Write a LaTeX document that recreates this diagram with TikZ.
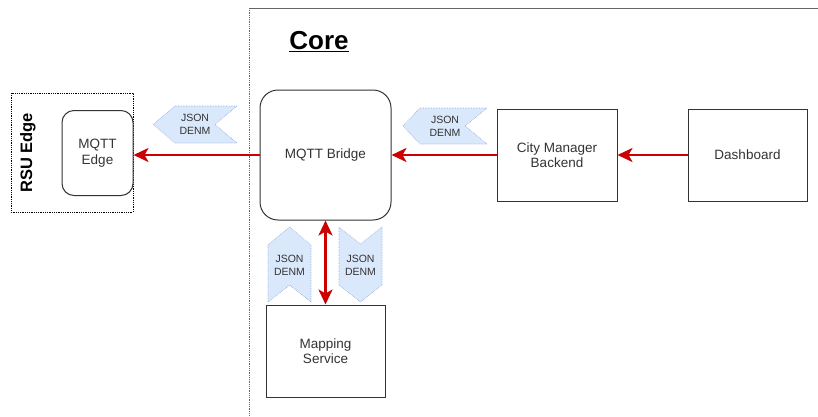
\documentclass[tikz,border=0pt]{standalone}
\usepackage{fontspec}
\setmainfont{Liberation Sans}
\usetikzlibrary{arrows.meta}
\definecolor{edge}{HTML}{333333}
\definecolor{flow}{HTML}{CC0000}
\definecolor{msgfill}{HTML}{DAE8FC}
\definecolor{msgline}{HTML}{8FAADC}
\tikzset{
  box/.style={draw=edge, line width=1pt, fill=white, align=center,
    font=\fontsize{13.5}{15.5}\selectfont, text=edge, inner sep=0pt},
  rbox/.style={box, rounded corners=12pt},
  flowtip/.tip={Stealth[length=15pt, width=14pt, inset=4pt]},
  flowarrow/.style={draw=flow, line width=2.6pt, -flowtip},
  msg/.style={fill=msgfill, draw=msgline, line width=0.6pt, densely dotted},
  msgtext/.style={align=center, font=\fontsize{10.5}{13}\selectfont, text=edge, inner sep=0pt},
}
\begin{document}
\begin{tikzpicture}[x=1pt, y=-1pt]
\useasboundingbox (0,0) rectangle (818,416);

% Core container (extends past the page on the right and bottom)
\draw[gray!80!black, line width=0.6pt] (818,8) -- (249,8);
\draw[gray!80!black, line width=0.8pt, densely dotted] (249,8) -- (249,416);
\node[font=\bfseries\fontsize{26}{30}\selectfont, inner sep=0pt] (core) at (319,42) {\underline{Core}};

% RSU edge container
\draw[black, line width=0.8pt, densely dotted] (11,93) rectangle (133,212);
\node[rotate=90, font=\bfseries\fontsize{16.5}{19}\selectfont, inner sep=0pt] (rsu) at (28,153) {RSU Edge};
\node[rbox, minimum width=71pt, minimum height=85pt] (mqttedge) at (97.5,153) {MQTT\\Edge};

% Core components
\node[rbox, rounded corners=18pt, minimum width=131pt, minimum height=130pt] (bridge) at (325.5,155) {MQTT Bridge};
\node[box, minimum width=120pt, minimum height=92pt] (cmb) at (557,155) {City Manager\\Backend};
\node[box, minimum width=119pt, minimum height=92pt] (dash) at (747.5,155) {Dashboard};
\node[box, minimum width=119pt, minimum height=92pt] (mapping) at (325.5,351) {Mapping\\Service};

% Message tags
\path[msg] (175,106) -- (237,106) -- (215,124.5) -- (237,143) -- (175,143) -- (153,124.5) -- cycle;
\node[msgtext] (tag1) at (195,124.5) {JSON\\DENM};
\path[msg] (420,108) -- (487,108) -- (465,126) -- (487,144) -- (420,144) -- (403,126) -- cycle;
\node[msgtext] (tag2) at (445,126) {JSON\\DENM};
\path[msg] (268,245) -- (289.5,227) -- (311,245) -- (311,302) -- (289.5,285) -- (268,302) -- cycle;
\node[msgtext] (tag3) at (289.5,265) {JSON\\DENM};
\path[msg] (339,227) -- (360.5,244) -- (382,227) -- (382,285) -- (360.5,302) -- (339,285) -- cycle;
\node[msgtext] (tag4) at (360.5,265) {JSON\\DENM};

% Data flows
\draw[flowarrow] (dash.west) -- (cmb.east);
\draw[flowarrow] (cmb.west) -- (bridge.east);
\draw[flowarrow] (bridge.west) -- (bridge.west -| mqttedge.east);
\draw[flowarrow, flowtip-flowtip] (bridge.south) -- (mapping.north);
\end{tikzpicture}
\end{document}
